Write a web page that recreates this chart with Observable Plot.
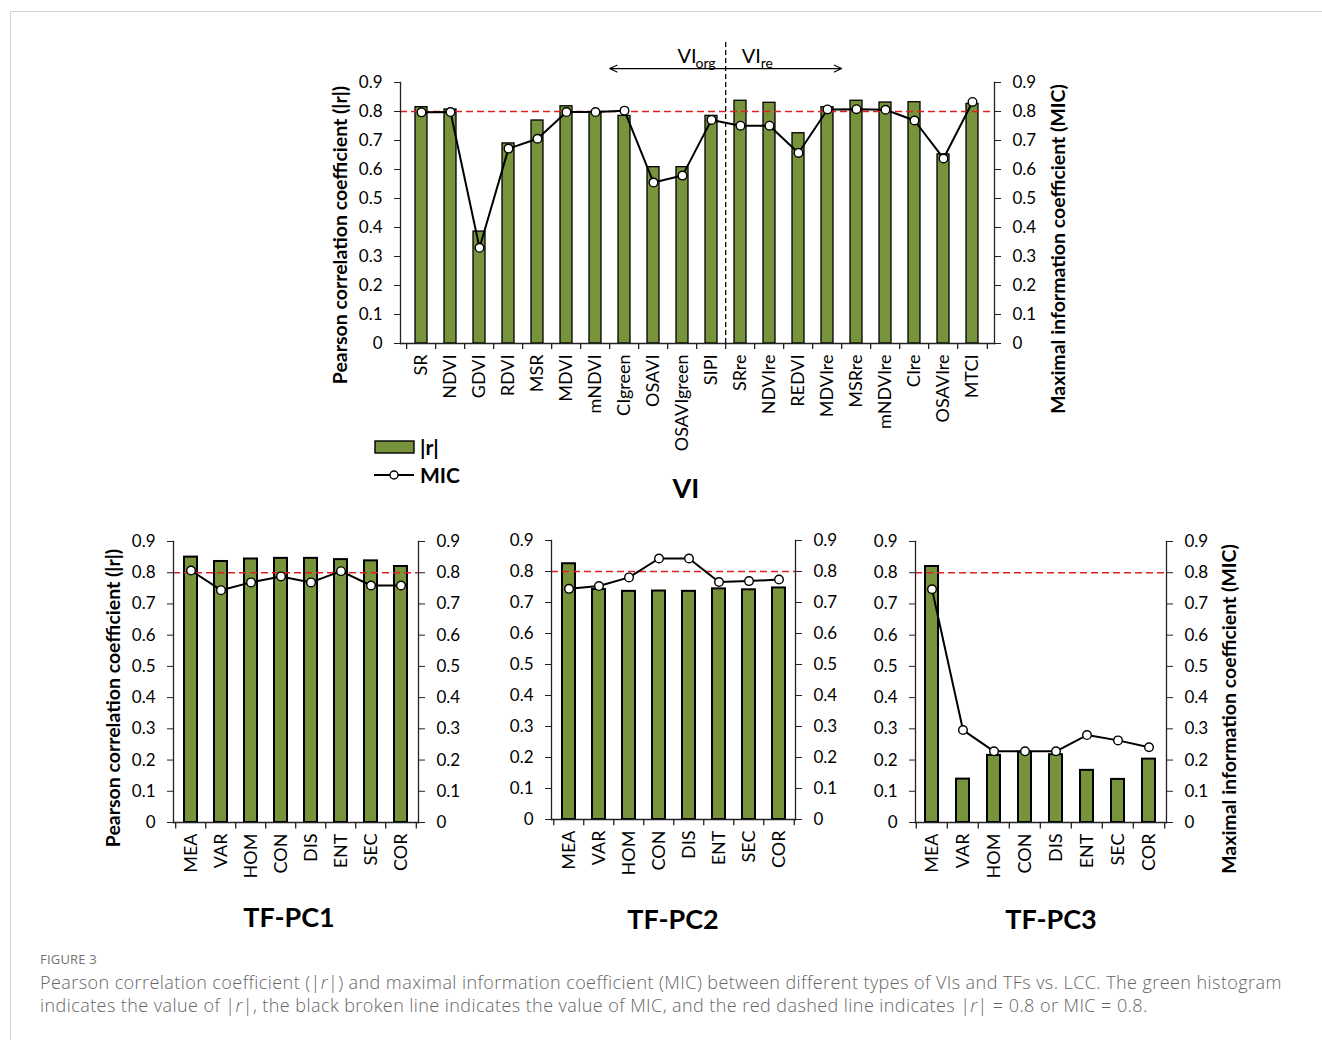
<!DOCTYPE html>
<html><head><meta charset="utf-8">
<script src="https://cdn.jsdelivr.net/npm/d3@7"></script>
<script src="https://cdn.jsdelivr.net/npm/@observablehq/plot@0.6"></script>
<style>
body{margin:0;background:#fff;width:1322px;height:1040px;position:relative;overflow:hidden;font-family:Lato,sans-serif}
.card{position:absolute;left:10px;top:11px;width:1330px;height:1040px;border-top:1px solid #d2d2d2;border-left:1px solid #d2d2d2}
.abs{position:absolute}
.ptitle{position:absolute;font-family:Lato;font-weight:bold;font-size:27px;color:#000;transform:translateX(-50%);white-space:nowrap}
.leg{position:absolute;display:flex;align-items:center;font-family:Lato;font-weight:bold;font-size:21px;color:#000}
.cap{position:absolute;left:40px;top:950px;font-family:"Open Sans",sans-serif;color:#666;white-space:nowrap}
.cap .fig{font-size:13px;font-weight:400;letter-spacing:0.2px;color:#737373}
.cap .txt{font-size:18px;font-weight:300;letter-spacing:0.43px;line-height:23px;margin-top:3px}
</style></head><body>
<div class="card"></div>
<div id="top" class="abs" style="left:300px;top:20px"></div>
<div id="pc1" class="abs" style="left:90px;top:510px"></div>
<div id="pc2" class="abs" style="left:500px;top:510px"></div>
<div id="pc3" class="abs" style="left:860px;top:510px"></div>
<div class="leg" style="left:374px;top:434px"><svg width="44" height="16"><rect x="1" y="2" width="39" height="12" fill="#77933c" stroke="#000" stroke-width="1.4"/></svg><span style="margin-left:2px">|r|</span></div>
<div class="leg" style="left:374px;top:462px"><svg width="44" height="16"><line x1="0" y1="8" x2="40" y2="8" stroke="#000" stroke-width="2"/><circle cx="20" cy="8" r="4" fill="#fff" stroke="#000" stroke-width="1.4"/></svg><span style="margin-left:2px">MIC</span></div>
<div class="ptitle" style="left:686px;top:471px">VI</div>
<div class="ptitle" style="left:289px;top:900px">TF-PC1</div>
<div class="ptitle" style="left:673px;top:902px">TF-PC2</div>
<div class="ptitle" style="left:1051px;top:902px">TF-PC3</div>
<div class="cap"><div class="fig">FIGURE 3</div><div class="txt">Pearson correlation coefficient (|<i>r</i>|) and maximal information coefficient (MIC) between different types of VIs and TFs vs. LCC. The green histogram<br>indicates the value of |<i>r</i>|, the black broken line indicates the value of MIC, and the red dashed line indicates |<i>r</i>| = 0.8 or MIC = 0.8.</div></div>
<script>
// ---- data ----
const viNames = ["SR","NDVI","GDVI","RDVI","MSR","MDVI","mNDVI","CIgreen","OSAVI","OSAVIgreen","SIPI","SRre","NDVIre","REDVI","MDVIre","MSRre","mNDVIre","CIre","OSAVIre","MTCI"];
const viR   = [0.815,0.807,0.386,0.690,0.769,0.818,0.798,0.785,0.608,0.608,0.785,0.837,0.830,0.725,0.815,0.837,0.831,0.832,0.652,0.826];
const viMIC = [0.797,0.798,0.330,0.672,0.706,0.798,0.798,0.803,0.555,0.579,0.771,0.751,0.751,0.657,0.807,0.808,0.806,0.769,0.638,0.833];
const tfNames = ["MEA","VAR","HOM","CON","DIS","ENT","SEC","COR"];
const pc1R   = [0.850,0.836,0.844,0.846,0.846,0.842,0.838,0.820];
const pc1MIC = [0.807,0.744,0.769,0.788,0.769,0.805,0.759,0.759];
const pc2R   = [0.825,0.742,0.736,0.737,0.736,0.744,0.741,0.747];
const pc2MIC = [0.744,0.753,0.781,0.842,0.842,0.766,0.769,0.774];
const pc3R   = [0.820,0.139,0.215,0.225,0.217,0.167,0.138,0.203];
const pc3MIC = [0.747,0.296,0.228,0.228,0.228,0.280,0.263,0.241];
const threshold = 0.8;
const yTicks = [0,0.1,0.2,0.3,0.4,0.5,0.6,0.7,0.8,0.9];
const leftLabel = "Pearson correlation coefficient (|r|)";
const rightLabel = "Maximal information coefficient (MIC)";
const splitAt = "SRre";
const groupLabels = [{main:"VI", sub:"org"},{main:"VI", sub:"re"}];
const arrowTargets = ["CIgreen","MSRre"];

const GREEN = "#77933c";
const fmt = d => d === 0 ? "0" : d.toFixed(1);

function panel(o){
  const {names, r, mic, width, height, ml, mr, mt, mb, left, right, barStroke, extra} = o;
  const rows = names.map((n,i)=>({name:n, r:r[i], mic:mic[i]}));
  const step = (width - ml - mr) / names.length;
  const marks = [
    Plot.barY(rows, {x:"name", y:"r", fill:GREEN, stroke:"#000", strokeWidth:barStroke}),
    Plot.ruleY([threshold], {stroke:"#e0201e", strokeWidth:1.4, strokeDasharray:"7,4"}),
    Plot.line(rows, {x:"name", y:"mic", stroke:"#000", strokeWidth:2}),
    Plot.dot(rows, {x:"name", y:"mic", r:4.3, fill:"#fff", stroke:"#000", strokeWidth:1.4}),
    Plot.frame({anchor:"left", stroke:"#222", strokeWidth:1.3}),
    Plot.frame({anchor:"right", stroke:"#222", strokeWidth:1.3}),
    Plot.frame({anchor:"bottom", stroke:"#222", strokeWidth:1.3}),
    Plot.ruleX(names, {x:d=>d, dx:-step/2, y1:0, y2:-0.0205, stroke:"#222", strokeWidth:1.3}),
    Plot.ruleX(names.slice(-1), {x:d=>d, dx:step/2, y1:0, y2:-0.0205, stroke:"#222", strokeWidth:1.3}),
    Plot.axisY(yTicks, {anchor:"left", tickSize:6, tickPadding:12, tickFormat:fmt, label:null, stroke:"#222"}),
    Plot.axisY(yTicks, {anchor:"right", tickSize:6, tickPadding:12, tickFormat:fmt, label:null, stroke:"#222"}),
    Plot.axisX({tickSize:0, tickRotate:-90, tickPadding:11, label:null, fontSize:18})
  ];
  if (left) marks.push(Plot.text([leftLabel], {frameAnchor:"left", text:d=>d, rotate:-90, textAnchor:"middle", dx:left.dx, dy:left.dy, fontWeight:"bold", fontSize:19.5}));
  if (right) marks.push(Plot.text([rightLabel], {frameAnchor:"right", text:d=>d, rotate:-90, textAnchor:"middle", dx:right.dx, dy:right.dy, fontWeight:"bold", fontSize:19.5}));
  if (extra) marks.push(...extra(step));
  return Plot.plot({
    width, height, marginLeft:ml, marginRight:mr, marginTop:mt, marginBottom:mb,
    style:{fontFamily:"Lato, sans-serif", fontSize:"17px", color:"#000", background:"transparent", overflow:"visible"},
    x:{type:"band", domain:names, paddingInner:0.58, paddingOuter:0.29, axis:null},
    y:{domain:[0,0.9], axis:null},
    marks
  });
}

document.getElementById("top").append(panel({
  names:viNames, r:viR, mic:viMIC, width:780, height:450, ml:100, mr:86, mt:62, mb:127,
  left:{dx:-60, dy:22}, right:{dx:64, dy:36}, barStroke:1.3,
  extra: step => [
    Plot.ruleX([splitAt], {x:d=>d, dx:-step/2, y1:0, y2:1.038, stroke:"#000", strokeWidth:1.3, strokeDasharray:"5,3"}),
    Plot.arrow(arrowTargets, {x1:()=>splitAt, x2:d=>d, y:0.948, dx:-step/2, stroke:"#000", strokeWidth:1.1, headLength:11, headAngle:50}),
    Plot.text(groupLabels.slice(0,1), {x:()=>splitAt, y:0.99, text:"main", dx:-step/2-29, textAnchor:"end", fontSize:20}),
    Plot.text(groupLabels.slice(0,1), {x:()=>splitAt, y:0.99, text:"sub", dx:-step/2-10, dy:7, textAnchor:"end", fontSize:14}),
    Plot.text(groupLabels.slice(1), {x:()=>splitAt, y:0.99, text:"main", dx:-step/2+16, textAnchor:"start", fontSize:20}),
    Plot.text(groupLabels.slice(1), {x:()=>splitAt, y:0.99, text:"sub", dx:-step/2+35, dy:7, textAnchor:"start", fontSize:14})
  ]
}));
document.getElementById("pc1").append(panel({
  names:tfNames, r:pc1R, mic:pc1MIC, width:378, height:372, ml:83, mr:50, mt:31, mb:60,
  left:{dx:-60, dy:16}, barStroke:2
}));
document.getElementById("pc2").append(panel({
  names:tfNames, r:pc2R, mic:pc2MIC, width:345, height:369, ml:51, mr:50, mt:30, mb:60, barStroke:2
}));
document.getElementById("pc3").append(panel({
  names:tfNames, r:pc3R, mic:pc3MIC, width:406, height:372, ml:55, mr:100, mt:31, mb:60,
  right:{dx:63, dy:27}, barStroke:2
}));
</script>
</body></html>
